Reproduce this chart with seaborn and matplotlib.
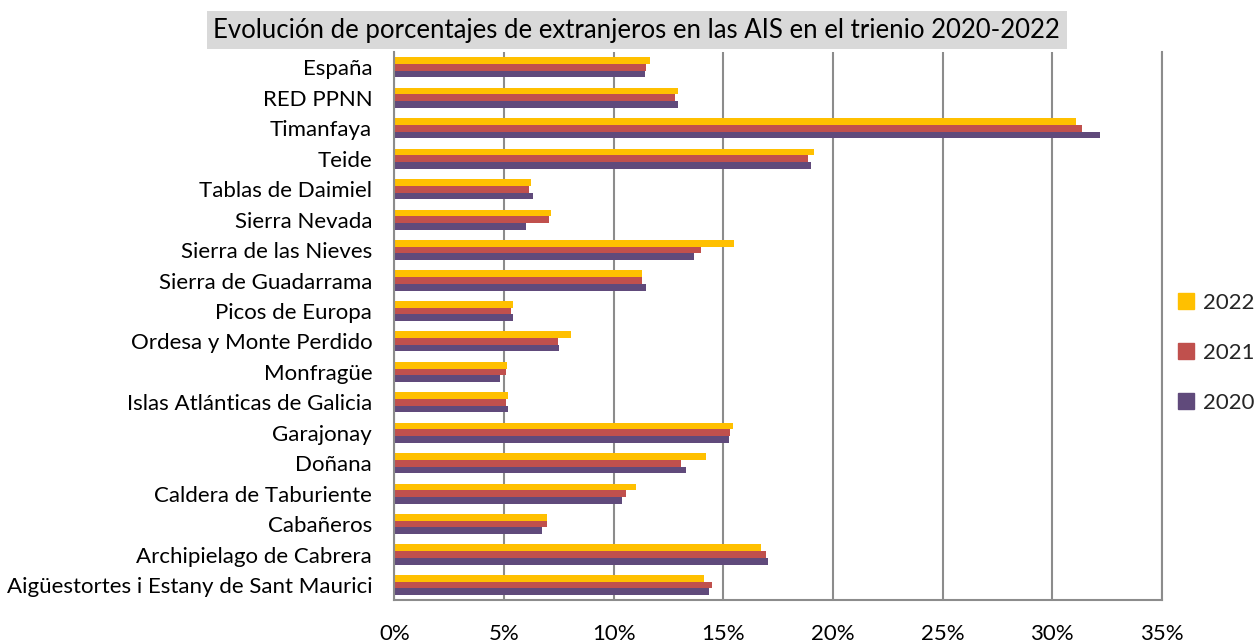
import numpy as np
import pandas as pd
import matplotlib
matplotlib.use("Agg")
import matplotlib.pyplot as plt
from matplotlib.ticker import PercentFormatter
import seaborn as sns

# ─── Data ────────────────────────────────────────────────
parks = [
    "España", "RED PPNN", "Timanfaya", "Teide", "Tablas de Daimiel",
    "Sierra Nevada", "Sierra de las Nieves", "Sierra de Guadarrama",
    "Picos de Europa", "Ordesa y Monte Perdido", "Monfragüe",
    "Islas Atlánticas de Galicia", "Garajonay", "Doñana",
    "Caldera de Taburiente", "Cabañeros", "Archipielago de Cabrera",
    "Aigüestortes i Estany de Sant Maurici",
]
pct_2022 = [11.68, 12.92, 31.09, 19.15, 6.21, 7.13, 15.49, 11.29, 5.40,
            8.04, 5.14, 5.17, 15.44, 14.21, 11.01, 6.95, 16.74, 14.11]
pct_2021 = [11.46, 12.78, 31.37, 18.85, 6.13, 7.07, 13.98, 11.30, 5.34,
            7.45, 5.11, 5.07, 15.30, 13.09, 10.55, 6.98, 16.93, 14.49]
pct_2020 = [11.43, 12.94, 32.20, 19.00, 6.34, 5.99, 13.68, 11.48, 5.42,
            7.51, 4.82, 5.20, 15.26, 13.32, 10.37, 6.72, 17.06, 14.33]
years = ["2022", "2021", "2020"]

TITLE = "Evolución de porcentajes de extranjeros en las AIS en el trienio 2020-2022"

# ─── Style ───────────────────────────────────────────────
COLORS = {"2022": "#FFC000", "2021": "#C0504D", "2020": "#604A7B"}
GRID = "#8C8C8C"
sns.set_theme(style="white")
plt.rcParams["font.family"] = ["Lato", "DejaVu Sans"]

df = pd.DataFrame({
    "park": parks * 3,
    "year": ["2022"] * len(parks) + ["2021"] * len(parks) + ["2020"] * len(parks),
    "pct": pct_2022 + pct_2021 + pct_2020,
})

fig = plt.figure(figsize=(12.56, 6.44), dpi=100)
ax = fig.add_axes([0.314, 0.068, 0.611, 0.851])

sns.barplot(data=df, y="park", x="pct", hue="year", hue_order=years,
            order=parks, palette=COLORS, orient="h", width=0.66,
            linewidth=0, saturation=1, ax=ax, legend=False)

ax.set_xlim(0, 35)
ax.set_xticks(np.arange(0, 36, 5))
ax.xaxis.set_major_formatter(PercentFormatter(decimals=0))
ax.grid(axis="x", color=GRID, linewidth=1.5)
ax.grid(axis="y", visible=False)
ax.set_axisbelow(True)
ax.set_xlabel("")
ax.set_ylabel("")
for side in ["left", "bottom", "right"]:
    ax.spines[side].set_visible(True)
    ax.spines[side].set_color(GRID)
    ax.spines[side].set_linewidth(1.5)
ax.spines["top"].set_visible(False)
ax.tick_params(axis="x", length=0, pad=17, labelsize=16, colors="black")
ax.tick_params(axis="y", length=0, pad=16, labelsize=16, colors="black")

# legend
handles = [plt.Rectangle((0, 0), 1, 1, color=COLORS[y]) for y in years]
fig.legend(handles, years, loc="center left", bbox_to_anchor=(0.938, 0.452),
           frameon=False, fontsize=16, handlelength=0.7, handleheight=0.7,
           handletextpad=0.4, labelspacing=1.35, borderpad=0, borderaxespad=0)

fig.text(0.507, 0.953, TITLE, ha="center", va="center", fontsize=18.5,
         color="black",
         bbox=dict(facecolor="#D9D9D9", edgecolor="none", boxstyle="square,pad=0.25"))

fig.savefig("out.png", dpi=100)
